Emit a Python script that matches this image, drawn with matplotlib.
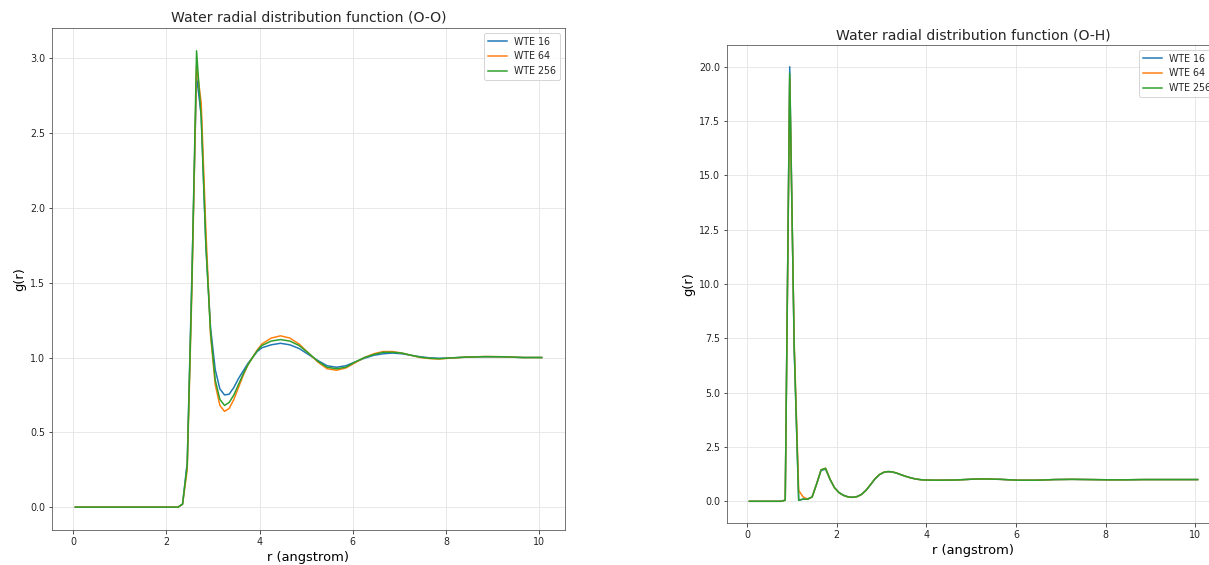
import matplotlib
matplotlib.use("Agg")
import matplotlib.pyplot as plt

# O-O radial distribution
r_oo = [0.05, 2.25, 2.35, 2.45, 2.55, 2.65, 2.75, 2.85, 2.95, 3.05, 3.15, 3.25,
        3.35, 3.45, 3.55, 3.65, 3.75, 3.85, 3.95, 4.05, 4.25, 4.45, 4.65, 4.85,
        5.05, 5.25, 5.45, 5.65, 5.85, 6.05, 6.25, 6.45, 6.65, 6.85, 7.05, 7.25,
        7.45, 7.65, 7.85, 8.05, 8.45, 8.85, 9.25, 9.65, 10.05]
g_oo_16 = [0, 0, 0.02, 0.30, 1.55, 2.88, 2.62, 1.75, 1.20, 0.92, 0.79, 0.75,
           0.755, 0.80, 0.86, 0.91, 0.96, 1.0, 1.04, 1.065, 1.085, 1.095, 1.085, 1.06,
           1.02, 0.98, 0.945, 0.935, 0.945, 0.97, 0.995, 1.015, 1.025, 1.03, 1.025, 1.015,
           1.005, 0.998, 0.995, 0.997, 1.003, 1.005, 1.004, 1.0, 1.0]
g_oo_64 = [0, 0, 0.02, 0.25, 1.45, 2.95, 2.70, 1.85, 1.15, 0.82, 0.68, 0.64,
           0.66, 0.72, 0.80, 0.88, 0.95, 1.0, 1.05, 1.09, 1.13, 1.145, 1.13, 1.09,
           1.03, 0.97, 0.925, 0.915, 0.93, 0.965, 1.0, 1.025, 1.04, 1.04, 1.03, 1.015,
           1.0, 0.993, 0.99, 0.995, 1.003, 1.007, 1.005, 1.0, 1.0]
g_oo_256 = [0, 0, 0.02, 0.28, 1.50, 3.05, 2.60, 1.75, 1.17, 0.85, 0.72, 0.68,
            0.70, 0.75, 0.82, 0.89, 0.95, 1.0, 1.045, 1.08, 1.11, 1.12, 1.11, 1.08,
            1.03, 0.975, 0.935, 0.925, 0.935, 0.97, 1.0, 1.02, 1.035, 1.035, 1.03, 1.015,
            1.002, 0.995, 0.992, 0.996, 1.003, 1.006, 1.005, 1.0, 1.0]

# O-H radial distribution
r_oh = [0.05, 0.75, 0.85, 0.95, 1.05, 1.15, 1.25, 1.35, 1.45, 1.55, 1.65, 1.75,
        1.85, 1.95, 2.05, 2.15, 2.25, 2.35, 2.45, 2.55, 2.65, 2.75, 2.85, 2.95,
        3.05, 3.15, 3.25, 3.35, 3.45, 3.55, 3.65, 3.75, 3.85, 3.95, 4.25, 4.65,
        5.05, 5.25, 5.65, 6.05, 6.45, 6.85, 7.25, 7.65, 8.05, 8.45, 8.85, 9.25,
        9.65, 10.05]
g_oh_16 = [0, 0, 0.05, 20.0, 7.0, 0.05, 0.10, 0.10, 0.20, 0.80, 1.42, 1.48,
           1.00, 0.62, 0.40, 0.28, 0.21, 0.19, 0.22, 0.32, 0.50, 0.75, 1.02, 1.22,
           1.33, 1.36, 1.34, 1.28, 1.21, 1.14, 1.08, 1.03, 1.0, 0.98, 0.97, 0.98,
           1.02, 1.03, 1.01, 0.97, 0.97, 1.0, 1.01, 1.0, 0.99, 0.99, 1.0, 1.0,
           1.0, 1.0]
g_oh_64 = [0, 0, 0.05, 19.5, 7.3, 0.50, 0.20, 0.10, 0.20, 0.80, 1.45, 1.52,
           1.02, 0.62, 0.40, 0.27, 0.20, 0.18, 0.21, 0.31, 0.50, 0.76, 1.03, 1.23,
           1.34, 1.37, 1.35, 1.29, 1.21, 1.14, 1.08, 1.03, 1.0, 0.98, 0.97, 0.98,
           1.02, 1.03, 1.01, 0.97, 0.97, 1.0, 1.01, 1.0, 0.99, 0.99, 1.0, 1.0,
           1.0, 1.0]
g_oh_256 = [0, 0, 0.05, 19.7, 7.1, 0.05, 0.10, 0.10, 0.20, 0.80, 1.45, 1.52,
            1.01, 0.62, 0.40, 0.27, 0.20, 0.18, 0.21, 0.31, 0.50, 0.76, 1.03, 1.23,
            1.34, 1.37, 1.35, 1.29, 1.21, 1.14, 1.08, 1.03, 1.0, 0.98, 0.97, 0.98,
            1.02, 1.03, 1.01, 0.97, 0.97, 1.0, 1.01, 1.0, 0.99, 0.99, 1.0, 1.0,
            1.0, 1.0]

labels = ["WTE 16", "WTE 64", "WTE 256"]

plt.rcParams["text.color"] = "#262626"
plt.rcParams["xtick.color"] = "#262626"
plt.rcParams["ytick.color"] = "#262626"
plt.rcParams["axes.edgecolor"] = "#555555"

fig = plt.figure(figsize=(1209 / 72, 565 / 72), dpi=72)
ax1 = fig.add_axes([0.043, 0.062, 0.4243, 0.8885])
ax2 = fig.add_axes([0.6013, 0.0743, 0.4078, 0.846])


def drawRdf(ax, r, series, title):
    for g, lab in zip(series, labels):
        ax.plot(r, g, label=lab, linewidth=1.5)
    ax.set_title(title, fontsize=14)
    ax.set_xlabel("r (angstrom)", fontsize=13)
    ax.set_ylabel("g(r)", fontsize=13)
    ax.grid(True, color="#e3e3e3", linewidth=0.8)
    ax.tick_params(labelsize=9.5)
    ax.legend(loc="upper right", fontsize=9.5)


drawRdf(ax1, r_oo, [g_oo_16, g_oo_64, g_oo_256], "Water radial distribution function (O-O)")
drawRdf(ax2, r_oh, [g_oh_16, g_oh_64, g_oh_256], "Water radial distribution function (O-H)")
# the right panel runs past the edge of the original image
ax2.spines["right"].set_visible(False)

fig.savefig("out.png", dpi=72)
